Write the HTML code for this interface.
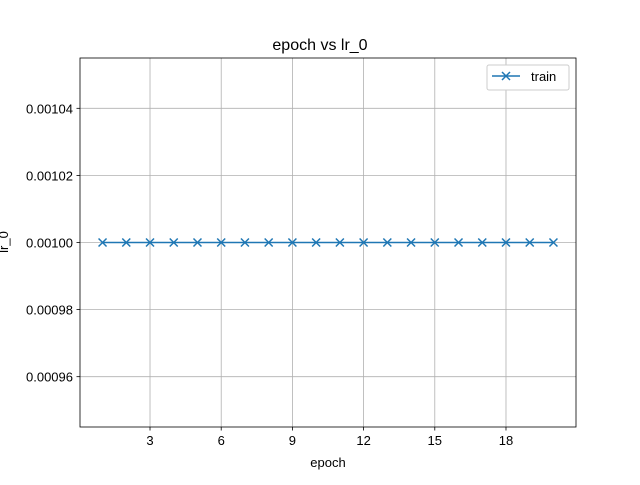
<!DOCTYPE html>
<html><head><meta charset="utf-8"><style>
body{margin:0;background:#fff;font-family:"Liberation Sans","DejaVu Sans",sans-serif}
</style></head><body>
<svg width="640" height="480" viewBox="0 0 640 480">
<rect width="640" height="480" fill="#fff"/>
<g id="grid"></g>
<g id="series"></g>
<rect x="80" y="58" width="496" height="369" fill="none" stroke="#000" stroke-width="0.8"/>
<g id="ticks" font-size="13px"></g>
<text x="320" y="50" text-anchor="middle" font-size="16px">epoch vs lr_0</text>
<text x="328" y="467" text-anchor="middle" font-size="13px">epoch</text>
<text transform="translate(8,242) rotate(-90)" text-anchor="middle" font-size="13px">lr_0</text>
<g>
<rect x="487" y="65" width="82" height="25" rx="2" fill="#fff" stroke="#ccc" stroke-width="1"/>
<line x1="492" y1="76" x2="520" y2="76" stroke="#1f77b4" stroke-width="1.5"/>
<path d="M502,72 l8,8 M510,72 l-8,8" stroke="#1f77b4" stroke-width="1.5"/>
<text x="531" y="81" font-size="13px">train</text>
</g>
</svg>
<script>
const epochs=[1,2,3,4,5,6,7,8,9,10,11,12,13,14,15,16,17,18,19,20];
const lrValues=[0.001,0.001,0.001,0.001,0.001,0.001,0.001,0.001,0.001,0.001,0.001,0.001,0.001,0.001,0.001,0.001,0.001,0.001,0.001,0.001];
const xTicks=[3,6,9,12,15,18];
const yTicks=[0.00096,0.00098,0.00100,0.00102,0.00104];
const yTickLabels=["0.00096","0.00098","0.00100","0.00102","0.00104"];
const X0=80,X1=576,Y0=58,Y1=427;
const xMin=0.05,xMax=20.95,yMin=0.000945,yMax=0.001055;
const sx=v=>X0+(v-xMin)/(xMax-xMin)*(X1-X0);
const sy=v=>Y1-(v-yMin)/(yMax-yMin)*(Y1-Y0);
const NS="http://www.w3.org/2000/svg";
function mk(t,a,p){const e=document.createElementNS(NS,t);for(const k in a)e.setAttribute(k,a[k]);p.appendChild(e);return e;}
const grid=document.getElementById('grid'),ticks=document.getElementById('ticks'),ser=document.getElementById('series');
xTicks.forEach(v=>{const x=sx(v);
const g=mk('line',{x1:x,x2:x,y1:Y0,y2:Y1,stroke:'#b0b0b0','stroke-width':0.8},grid);


mk('line',{x1:x,x2:x,y1:Y1,y2:Y1+3.5,stroke:'#000','stroke-width':0.8},ticks);
const t=mk('text',{x:x,y:Y1+18,'text-anchor':'middle'},ticks);t.textContent=v;

});
yTicks.forEach((v,i)=>{const y=sy(v);
const g=mk('line',{x1:X0,x2:X1,y1:y,y2:y,stroke:'#b0b0b0','stroke-width':0.8},grid);


mk('line',{x1:X0-3.5,x2:X0,y1:y,y2:y,stroke:'#000','stroke-width':0.8},ticks);
const t=mk('text',{x:X0-7,y:y+5,'text-anchor':'end'},ticks);t.textContent=yTickLabels[i];

});
const pts=epochs.map((e,i)=>[sx(e),sy(lrValues[i])]);
const line=mk('polyline',{points:pts.map(p=>p.join(',')).join(' '),fill:'none',stroke:'#1f77b4','stroke-width':1.5},ser);


pts.forEach(p=>{const m=mk('path',{d:`M${p[0]-4},${p[1]-4} l8,8 M${p[0]+4},${p[1]-4} l-8,8`,stroke:'#1f77b4','stroke-width':1.5},ser);

});
</script>
</body></html>
